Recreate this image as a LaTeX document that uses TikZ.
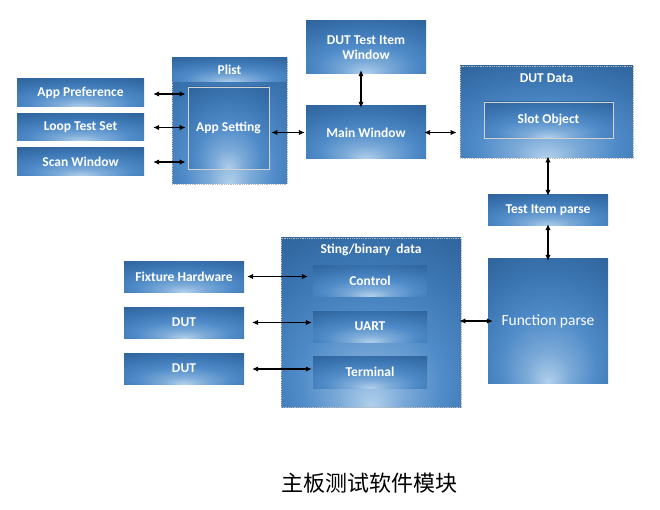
\documentclass[tikz,border=0pt]{standalone}
\usepackage{fontspec}
\setmainfont{Carlito}
\newfontfamily\cjk{Noto Sans CJK SC}
\usetikzlibrary{arrows.meta, positioning}
\definecolor{blkdark}{HTML}{2A5C93}
\definecolor{blkdeep}{HTML}{3A74B0}
\definecolor{blkmid}{HTML}{4F8BC8}
\definecolor{blklight}{HTML}{B2D0EC}
\pgfdeclareradialshading{blkshade}{\pgfpoint{0bp}{-25bp}}{%
  color(0bp)=(blklight); color(9bp)=(blkmid!55!blklight);
  color(20bp)=(blkmid); color(33bp)=(blkdeep); color(48bp)=(blkdark);
  color(70bp)=(blkdark)}
\tikzset{
        x=1pt, y=-1pt, % picture measured in pixels, y downwards
        blk/.style={shading=blkshade, inner sep=0pt, text=white,
          font=\fontsize{13.5}{15}\selectfont\bfseries}, % every blue box
        grp/.style={blk, draw=gray!55, densely dotted, line width=0.8pt}, % dotted containers
        frm/.style={blk, draw=gray!35, line width=0.8pt}, % inner boxes with a thin frame
        conn/.style={{Latex[length=6pt,width=5.5pt]}-{Latex[length=6pt,width=5.5pt]}, line width=1.1pt, black}, % double arrows
    }

\begin{document}
\begin{tikzpicture}
    \useasboundingbox[fill=white] (0,0) rectangle (660,510);
    % left column
    \node[blk, minimum width=127, minimum height=28] (apppref) at (80.5,93) {App Preference};
    \node[blk, minimum width=127, minimum height=27] (looptest) at (80.5,127.5) {Loop Test Set};
    \node[blk, minimum width=127, minimum height=28] (scanwin) at (80.5,162) {Scan Window};
    % plist group
    \node[grp, minimum width=115, minimum height=126] (plist) at (229.5,121) {};
    \node[blk, minimum width=115, minimum height=24] (plisthead) at (229.5,70) {Plist};
    \node[frm, minimum width=81, minimum height=82] (appset) at (228.5,128) {App Setting};
    % middle column
    \node[blk, minimum width=120, minimum height=53, align=center] (dutitem) at (366,47.5) {DUT Test Item\\Window};
    \node[blk, minimum width=120, minimum height=53] (mainwin) at (366,132.5) {Main Window};
    % DUT data group
    \node[grp, minimum width=173, minimum height=92] (dutdata) at (546.5,112) {};
    \node[text=white, font=\fontsize{13.5}{15}\selectfont\bfseries] (dutlabel) at (546.5,78) {DUT Data};
    \node[frm, minimum width=129, minimum height=36] (slotobj) at (548.5,120) {Slot Object};
    % right column
    \node[blk, minimum width=120, minimum height=31] (testitem) at (548,210.5) {Test Item parse};
    \node[blk, minimum width=120, minimum height=124, font=\fontsize{15.5}{17}\selectfont] (funcparse) at (548,321) {Function parse};
    % string/binary group
    \node[grp, minimum width=180, minimum height=169] (sting) at (371,322.5) {};
    \node[text=white, font=\fontsize{13.5}{15}\selectfont\bfseries] (stinglabel) at (371,250) {Sting/binary\ \ data};
    \node[blk, minimum width=114, minimum height=31] (control) at (370,280.5) {Control};
    \node[blk, minimum width=114, minimum height=31] (uart) at (370,326.5) {UART};
    \node[blk, minimum width=114, minimum height=32] (terminal) at (370,372) {Terminal};
    % hardware
    \node[blk, minimum width=120, minimum height=31] (fixture) at (184,276.5) {Fixture Hardware};
    \node[blk, minimum width=120, minimum height=31] (dutone) at (184,322.5) {DUT};
    \node[blk, minimum width=120, minimum height=31] (duttwo) at (184,368.5) {DUT};
    % caption
    \node[font=\cjk\fontsize{22}{26}\selectfont] (caption) at (369,483) {主板测试软件模块};
    \path[every edge/.style={conn, draw, shorten <=9pt, shorten >=2pt}]
      ([yshift=-1]apppref.east) edge ([yshift=-1]apppref.east -| appset.west)
      (looptest.east) edge (looptest.east -| appset.west)
      (scanwin.east) edge (scanwin.east -| appset.west);
    \path[every edge/.style={conn, draw}]
      ([xshift=2]appset.east |- mainwin) edge ([xshift=-1]mainwin.west)
      ([xshift=-5,yshift=4]dutitem.south) edge ([xshift=-5,yshift=-2]mainwin.north)
      ([xshift=-2]mainwin.east) edge ([xshift=-3]mainwin.east -| dutdata.west)
      ([yshift=2]dutdata.south -| testitem) edge ([yshift=-1]testitem.north)
      ([yshift=2]testitem.south) edge ([yshift=-2]funcparse.north)
      ([xshift=-2]sting.east |- funcparse) edge ([xshift=5]funcparse.west)
      ([xshift=3]fixture.east) edge ([xshift=-5]fixture.east -| control.west)
      ([xshift=8]dutone.east) edge ([xshift=-1]dutone.east -| uart.west)
      ([xshift=8,yshift=-0.5]duttwo.east) edge ([xshift=-1,yshift=-0.5]duttwo.east -| terminal.west);
\end{tikzpicture}
\end{document}
